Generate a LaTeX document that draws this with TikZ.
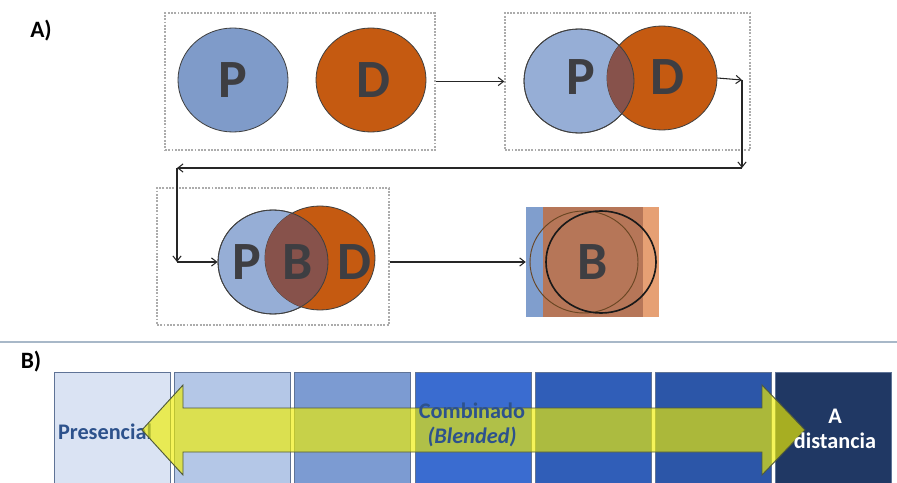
\documentclass[tikz,border=0pt]{standalone}
\usepackage{fontspec}
\setmainfont{Carlito}
\usetikzlibrary{shapes.geometric,arrows.meta}
\definecolor{pblue}{RGB}{127,155,201}
\definecolor{plight}{RGB}{150,174,214}
\definecolor{dorange}{RGB}{197,90,17}
\definecolor{pdmix}{RGB}{135,82,75}
\definecolor{lettergray}{RGB}{62,62,66}
\definecolor{textblue}{RGB}{45,82,140}
\definecolor{mixbrown}{RGB}{182,118,88}
\definecolor{mixlight}{RGB}{230,160,116}
\definecolor{mixblue}{RGB}{128,158,205}
\definecolor{barA}{RGB}{218,227,243}
\definecolor{barB}{RGB}{180,199,231}
\definecolor{barC}{RGB}{124,155,210}
\definecolor{barD}{RGB}{58,108,208}
\definecolor{barE}{RGB}{48,94,184}
\definecolor{barF}{RGB}{44,86,168}
\definecolor{barG}{RGB}{32,56,100}
\definecolor{barline}{RGB}{95,115,150}
\definecolor{sepline}{RGB}{168,184,200}
\definecolor{arrowfill}{RGB}{240,238,0}
\definecolor{arrowline}{RGB}{80,90,60}
\tikzset{
  stage/.style={draw=gray!65,line width=1.2pt,dash pattern=on 1.6pt off 1.2pt,
    minimum height=4.11cm,inner sep=0},
  set/.style={ellipse,draw=black!75,line width=0.7pt,minimum width=3.3cm,
    minimum height=3.12cm,inner sep=0},
  letter/.style={font=\bfseries\fontsize{46}{46}\selectfont,text=lettergray,inner sep=0},
  conn/.style={-{Straight Barb[length=4.5pt,width=7pt]},line width=0.9pt,black!85},
  bar/.style={draw=barline,line width=0.6pt,
    minimum width=3.48cm,minimum height=3.33cm,inner sep=0},
  tag/.style={font=\bfseries\fontsize{20}{22}\selectfont},
  barlabel/.style={font=\bfseries\fontsize{19}{21}\selectfont,align=center},
}
\begin{document}
\begin{tikzpicture}[x=0.03cm,y=-0.03cm]
\useasboundingbox (0,0) rectangle (897,483);
\node[tag] (tagA) at (41,31) {A)};
\node[stage,minimum width=8.1cm] (box1) at (300,81.5) {};
\node[stage,minimum width=7.35cm] (box2) at (627.5,81.5) {};
\node[stage,minimum width=6.96cm] (box3) at (273,256.5) {};
% apart
\node[set,fill=pblue] (P1) at (233,80) {};
\node[set,fill=dorange] (D1) at (371,80) {};
\node[letter] (P1l) at (P1) {P};
\node[letter] (D1l) at (373,80) {D};
% touching
\node[set,fill=plight] (P2) at (579,81) {};
\node[set,fill=dorange] (D2) at (662,78) {};
\begin{scope}
\clip (P2.center) ellipse [x radius=1.65cm,y radius=1.56cm];
\fill[pdmix] (D2.center) ellipse [x radius=1.65cm,y radius=1.56cm];
\end{scope}
\draw[black!75,line width=0.7pt] (P2.center) ellipse [x radius=1.65cm,y radius=1.56cm];
\node[letter] (P2l) at (581,77) {P};
\node[letter] (D2l) at (667,77) {D};
% blended
\node[set,fill=plight] (P3) at (273,262) {};
\node[set,fill=dorange] (D3) at (320,258) {};
\begin{scope}
\clip (P3.center) ellipse [x radius=1.65cm,y radius=1.56cm];
\fill[pdmix] (D3.center) ellipse [x radius=1.65cm,y radius=1.56cm];
\end{scope}
\draw[black!75,line width=0.7pt] (P3.center) ellipse [x radius=1.65cm,y radius=1.56cm];
\node[letter] (P3l) at (247,262) {P};
\node[letter] (B3l) at (298,262) {B};
\node[letter] (D3l) at (354,262) {D};
% merged
\node[minimum width=3.99cm,minimum height=3.3cm,inner sep=0] (mix) at (592.5,262) {};
\fill[mixblue] (mix.north west) rectangle (543,317);
\fill[mixbrown] (543,207) rectangle (643,317);
\fill[mixlight] (643,207) rectangle (mix.south east);
\draw[brown!55!black,line width=0.8pt] (584,262) ellipse [x radius=1.62cm,y radius=1.53cm];
\draw[black!90,line width=1.4pt] (601,262) ellipse [x radius=1.65cm,y radius=1.53cm];
\node[letter] (mixl) at (mix) {B};
% connectors
\coordinate (turnA) at (742,80);
\coordinate (turnB) at (742,168);
\coordinate (turnC) at (177,168);
\coordinate (turnD) at (177,262);
\draw[conn] (box1.east) -- (box2.west);
\draw[conn] (D2.east) -- (turnA);
\draw[conn] (turnA) -- (turnB);
\draw[conn] (turnB) -- (turnC);
\draw[conn] (turnC) -- (turnD);
\draw[conn] (turnD) -- (P3.west);
\draw[conn] (P3 -| box3.east) -- (mix.west);
% part B
\draw[line width=1.5pt,sepline] (0,342) -- (897,342);
\node[tag] (tagB) at (31,362) {B)};
\foreach \c [count=\i from 0] in {barA,barB,barC,barD,barE,barF,barG}
  \node[bar,fill=\c] (bar\i) at (112+120.3*\i,427.5) {};
\node[barlabel,text=textblue] (pres) at (105,432) {Presencial};
\fill[arrowfill,fill opacity=0.65,draw=arrowline,line width=0.8pt]
  (142,430) -- (183,385) -- (183,408) -- (762,408) -- (762,385) -- (805,430)
  -- (762,475) -- (762,452) -- (183,452) -- (183,475) -- cycle;
\node[barlabel,text=textblue] (comb) at (472,425) {Combinado\\\textit{(Blended)}};
\node[barlabel,text=white] (dist) at (835,429) {A\\distancia};
\end{tikzpicture}
\end{document}
